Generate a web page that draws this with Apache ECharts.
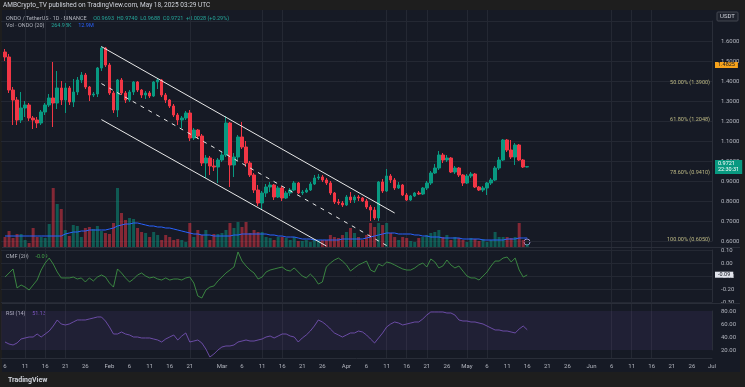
<!DOCTYPE html>
<html><head><meta charset="utf-8">
<script src="https://cdn.jsdelivr.net/npm/echarts@6/dist/echarts.min.js"></script>
<style>html,body{margin:0;padding:0;background:#1e1e1e;overflow:hidden}#c{width:745px;height:387px}</style>
</head><body><div id="c"></div>
<script>
// ---- categories: daily, Jan 5 2025 -> Jul 1 2025 ----
const categories = [];
for (let i = 0; i < 178; i++) { const d = new Date(Date.UTC(2025, 0, 5 + i)); categories.push(d.toISOString().slice(0, 10)); }
const firstDataDate = '2025-01-06';

// ---- OHLC (Jan 6 -> May 16) ----
const open = [1.545,1.52,1.355,1.305,1.205,1.265,1.28,1.215,1.205,1.19,1.245,1.28,1.315,1.29,1.365,1.305,1.365,1.295,1.345,1.405,1.43,1.37,1.33,1.335,1.465,1.565,
1.48,1.34,1.255,1.405,1.34,1.305,1.345,1.395,1.355,1.33,1.34,1.325,1.395,1.405,1.33,1.305,1.275,1.23,1.205,1.215,1.24,1.115,1.155,1.125,0.99,1.015,0.975,0.97,
1.005,1.03,1.19,0.98,1.02,1.12,1.07,0.99,0.93,0.855,0.79,0.84,0.87,0.88,0.82,0.865,0.815,0.84,0.855,0.89,0.84,0.845,0.855,0.885,0.915,0.92,0.905,0.89,0.84,0.795,0.79,
0.78,0.82,0.805,0.82,0.815,0.80,0.77,0.755,0.715,0.895,0.85,0.925,0.905,0.865,0.88,0.83,0.805,0.825,0.84,0.835,0.865,0.89,0.94,0.965,1.03,1.005,1.015,0.945,0.965,0.93,
0.89,0.925,0.935,0.87,0.855,0.865,0.89,0.905,0.965,1.005,1.105,1.055,1.02,1.08,1.005,0.97];
const close = [1.52,1.355,1.305,1.205,1.265,1.28,1.215,1.205,1.19,1.245,1.28,1.315,1.29,1.365,1.305,1.365,1.295,1.345,1.405,1.43,1.37,1.33,1.335,1.465,1.565,1.48,
1.34,1.255,1.405,1.34,1.305,1.345,1.395,1.355,1.33,1.34,1.325,1.395,1.405,1.33,1.305,1.275,1.23,1.205,1.215,1.24,1.115,1.155,1.125,0.99,1.015,0.975,0.97,1.005,
1.03,1.19,0.98,1.02,1.12,1.07,0.99,0.93,0.855,0.79,0.84,0.87,0.88,0.82,0.865,0.815,0.84,0.855,0.89,0.84,0.845,0.855,0.885,0.915,0.92,0.905,0.89,0.84,0.795,0.79,0.78,
0.82,0.805,0.82,0.815,0.80,0.77,0.755,0.715,0.895,0.85,0.925,0.905,0.865,0.88,0.83,0.805,0.825,0.84,0.835,0.865,0.89,0.94,0.965,1.03,1.005,1.015,0.945,0.965,0.93,0.89,
0.925,0.935,0.87,0.855,0.865,0.89,0.905,0.965,1.005,1.105,1.055,1.02,1.08,1.005,0.97,0.9721];
const high = [1.56,1.535,1.37,1.32,1.345,1.30,1.29,1.225,1.22,1.255,1.29,1.335,1.495,1.45,1.40,1.39,1.375,1.41,1.42,1.445,1.44,1.375,1.345,1.47,1.575,1.57,
1.49,1.35,1.41,1.415,1.35,1.355,1.40,1.40,1.36,1.35,1.35,1.40,1.415,1.41,1.34,1.31,1.285,1.24,1.225,1.25,1.255,1.165,1.16,1.135,1.03,1.025,1.01,1.015,
1.045,1.225,1.195,1.04,1.13,1.195,1.10,1.0,0.94,0.88,0.85,0.885,0.895,0.885,0.875,0.875,0.85,0.865,0.90,0.895,0.855,0.865,0.895,0.93,0.935,0.93,0.915,0.90,0.845,0.81,0.80,
0.83,0.845,0.83,0.83,0.82,0.81,0.78,0.77,0.90,0.91,0.96,0.935,0.915,0.895,0.885,0.84,0.83,0.845,0.85,0.87,0.90,0.95,0.985,1.05,1.04,1.03,1.02,0.975,0.97,0.935,
0.935,0.945,0.94,0.875,0.875,0.895,0.915,0.975,1.02,1.11,1.11,1.105,1.09,1.085,1.01,0.975];
const low = [1.50,1.34,1.18,1.18,1.19,1.22,1.20,1.16,1.165,1.18,1.23,1.27,1.17,1.26,1.28,1.24,1.28,1.27,1.33,1.39,1.36,1.30,1.32,1.32,1.45,1.47,
1.33,1.24,1.22,1.33,1.29,1.295,1.33,1.345,1.315,1.31,1.315,1.32,1.36,1.32,1.29,1.265,1.22,1.18,1.165,1.205,1.10,1.105,1.11,0.975,0.915,0.93,0.95,0.89,
0.995,1.02,0.87,0.92,1.005,1.06,0.97,0.92,0.84,0.775,0.755,0.82,0.845,0.805,0.815,0.80,0.81,0.825,0.85,0.835,0.83,0.84,0.85,0.88,0.905,0.895,0.88,0.83,0.785,0.78,0.77,
0.775,0.79,0.79,0.80,0.795,0.76,0.70,0.705,0.70,0.84,0.845,0.89,0.855,0.86,0.825,0.80,0.80,0.82,0.83,0.83,0.855,0.88,0.935,0.955,0.99,0.995,0.94,0.935,0.92,0.875,
0.885,0.915,0.865,0.85,0.845,0.83,0.88,0.90,0.955,1.0,1.045,1.01,0.98,1.0,0.965,0.968];
// volume (millions)
const volume = [10,16,9,13,13,7,4,19,10,10,9,23,59,43,38,17,11,22,21,10,19,20,18,21,16,14,
13,24,59,34,27,29,28,19,15,14,10,15,12,7,12,10,7,8,7,5,24,10,17,12,17,7,13,13,
14,17,24,19,25,20,25,14,17,15,15,10,9,7,10,10,9,7,10,6,6,7,5,8,7,7,7,12,10,9,12,
15,19,14,10,7,12,24,20,24,22,24,14,10,7,10,9,6,5,9,10,12,14,15,17,10,12,7,10,9,7,
5,9,8,6,8,5,7,15,10,10,10,9,10,24,7,3];
const volumeMA = [11,11,11,11,11,11,11,11,11,11,11,11,11,11,11,13,14,15,15,16,16,17,17,17,17,17,
18,19,21,22,23,23,24,24,23,22,21,21,20,20,19,19,18,17,16,15,14,13,13,12,12,12,11,11,
11,11,11,12,12,13,13,13,13,13,13,13,12,12,11,11,10,10,10,9,8,8,8,7,7,7,7,7,7,7,8,
8,8,8,8,8,9,10,11,12,13,14,14,14,13,13,13,13,12,12,11,11,10,10,10,9,9,9,9,9,8,
8,8,8,8,7,7,7,7,7,7,8,8,8,9,9,9];
const cmf = [-0.108,-0.077,-0.046,-0.192,-0.169,-0.185,-0.208,-0.169,-0.131,-0.054,0,0.038,-0.008,-0.069,-0.115,-0.115,-0.115,-0.108,-0.123,-0.115,-0.146,-0.115,-0.138,-0.108,-0.092,-0.108,
-0.154,-0.185,-0.046,-0.077,-0.115,-0.146,-0.123,-0.092,-0.077,-0.1,-0.115,-0.108,-0.123,-0.131,-0.115,-0.131,-0.123,-0.123,-0.131,-0.115,-0.108,-0.154,-0.254,-0.269,-0.208,-0.185,-0.177,-0.138,
-0.108,-0.077,-0.054,-0.031,0.085,0.015,-0.023,-0.054,-0.077,-0.123,-0.108,-0.069,-0.054,-0.046,-0.038,-0.031,-0.054,-0.062,-0.038,-0.069,-0.1,-0.115,-0.085,-0.115,-0.162,-0.146,-0.031,0,0.023,0.038,0.015,
-0.015,-0.062,-0.038,-0.015,0,0.015,-0.054,-0.069,-0.008,-0.023,0.008,0,-0.015,-0.031,-0.046,-0.054,-0.054,-0.038,-0.015,0,-0.031,0.031,0.008,-0.038,-0.023,0.023,-0.015,-0.038,-0.023,-0.062,
-0.1,-0.115,-0.115,-0.131,-0.1,-0.069,-0.023,0.015,0.015,0.038,0.046,0.008,0.038,-0.054,-0.108,-0.092];
const rsi = [32.3,29.2,27.7,30.8,36.9,38.5,40,40,44.6,40,44.6,49.2,56.9,66.2,60,58.5,60,63.1,66.2,66.2,66.2,67.7,69.2,70.8,70.8,64.6,
55.4,44.6,44.6,47.7,44.6,43.1,40,40,38.5,38.5,38.5,36.9,35.4,32.3,36.9,40,43.1,35.4,41.5,46.2,32.3,33.8,35.4,30.8,21.5,9.2,13.8,20,
24.6,26.2,26.2,27.7,32.3,33.8,35.4,33.8,33.8,35.4,36.9,40,41.5,38.5,41.5,44.6,44.6,41.5,40,32.3,38.5,43.1,49.2,56.9,66.2,63.1,58.5,52.3,46.2,43.1,40,
43.1,46.2,46.2,49.2,47.7,43.1,36.9,30.8,38.5,46.2,55.4,60,63.1,61.5,58.5,60,61.5,63.1,63.1,67.7,73.8,78.5,78.5,78.5,78.5,76.9,76.9,73.8,66.2,64.6,
64.6,63.1,63.1,61.5,60,56.9,53.8,50.8,50.8,49.2,49.2,47.7,46.2,52.3,56.9,51.13];

// ---- annotations ----
const channelUpper = [['2025-01-30', 1.572], ['2025-04-13', 0.740]];
const channelMid   = [['2025-01-30', 1.387], ['2025-04-12', 0.566]];
const channelLower = [['2025-01-30', 1.207], ['2025-03-27', 0.575]];
const fibPct   = ['50.00%', '61.80%', '78.60%', '100.00%'];
const fibPrice = [1.3900, 1.2048, 0.9410, 0.6050];
const alertPrice = 1.4825;
const countdown = '22:30:31';
const labelDates = ['2025-01-06','2025-01-11','2025-01-16','2025-01-21','2025-01-26','2025-02-01','2025-02-06','2025-02-11','2025-02-16','2025-02-21',
'2025-03-01','2025-03-06','2025-03-11','2025-03-16','2025-03-21','2025-03-26','2025-04-01','2025-04-06','2025-04-11','2025-04-16','2025-04-21','2025-04-26',
'2025-05-01','2025-05-06','2025-05-11','2025-05-16','2025-05-21','2025-05-26','2025-06-01','2025-06-06','2025-06-11','2025-06-16','2025-06-21','2025-06-26','2025-07-01'];
const gridDates = ['2025-01-11','2025-01-16','2025-01-21','2025-02-21','2025-03-11','2025-03-16','2025-04-11','2025-04-16','2025-04-21','2025-05-01','2025-05-06','2025-06-06','2025-06-11','2025-06-16'];
const monthNames = ['Jan','Feb','Mar','Apr','May','Jun','Jul','Aug'];

// ---- build padded series ----
const off = categories.indexOf(firstDataDate);
const pad = arr => categories.map((c, i) => (i - off >= 0 && i - off < arr.length) ? arr[i - off] : '-');
const candleData = categories.map((c, i) => {
  const k = i - off;
  if (k < 0 || k >= close.length) return '-';
  return [open[k], close[k], low[k], high[k]];
});
const UP = '#089981', DOWN = '#f23645';
const volData = categories.map((c, i) => {
  const k = i - off;
  if (k < 0 || k >= volume.length) return '-';
  return { value: volume[k], itemStyle: { color: close[k] >= open[k] ? 'rgba(8,153,129,0.5)' : 'rgba(242,54,69,0.5)' } };
});
const lastClose = close[close.length - 1];
const lastUp = close[close.length - 1] >= open[open.length - 1];
const lastCmf = cmf[cmf.length - 1];

const TXT = '#b2b5be', GRID = '#242833', FONT = 'Roboto';
const L = 1, R = 33;
const hiddenX = i => ({ type: 'category', gridIndex: i, data: categories, boundaryGap: false, show: false });
const CLEAR = 'rgba(0,0,0,0)';

const chart = echarts.init(document.getElementById('c'), null, { renderer: 'canvas' });
chart.setOption({
  backgroundColor: '#1e1e1e',
  animation: false,
  textStyle: { fontFamily: FONT },
  grid: [
    { left: L, right: R, top: 21, height: 220 },     // 0 price
    { left: L, right: R, top: 140, height: 107 },    // 1 volume overlay
    { left: L, right: R, top: 250, height: 52 },     // 2 CMF
    { left: L, right: R, top: 311, height: 39 },     // 3 RSI
    { left: L, right: R, top: 10, height: 348 }      // 4 background / time axis
  ],
  xAxis: [
    hiddenX(0), hiddenX(1), hiddenX(2), hiddenX(3),
    { type: 'category', gridIndex: 4, data: categories, boundaryGap: false,
      axisLine: { show: true, lineStyle: { color: '#2a2e39' } }, axisTick: { show: false },
      splitLine: { show: true, interval: (i, v) => gridDates.includes(categories[i]), lineStyle: { color: GRID, width: 1 } },
      axisLabel: { interval: (i, v) => labelDates.includes(v), color: TXT, fontSize: 6, margin: 5, hideOverlap: false,
        formatter: v => { const d = +v.slice(8, 10); return d === 1 ? monthNames[+v.slice(5, 7) - 1] : String(d); } } }
  ],
  yAxis: [
    { type: 'value', gridIndex: 0, position: 'right', min: 0.6, max: 1.7, interval: 0.1,
      axisLine: { show: true, lineStyle: { color: '#2a2e39' } }, axisTick: { show: false },
      splitLine: { lineStyle: { color: GRID } },
      axisLabel: { color: TXT, fontSize: 6, margin: 9, showMaxLabel: false, formatter: v => v.toFixed(4) } },
    { type: 'value', gridIndex: 1, min: 0, max: 107, show: false, splitLine: { show: false } },
    { type: 'value', gridIndex: 2, position: 'right', min: -0.3, max: 0.1, interval: 0.1,
      axisLine: { show: true, lineStyle: { color: '#2a2e39' } }, axisTick: { show: false },
      splitLine: { lineStyle: { color: GRID } },
      axisLabel: { color: TXT, fontSize: 6, margin: 9, formatter: v => v.toFixed(2) } },
    { type: 'value', gridIndex: 3, position: 'right', min: 20, max: 80, interval: 20,
      axisLine: { show: true, lineStyle: { color: '#2a2e39' } }, axisTick: { show: false },
      splitLine: { show: false },
      axisLabel: { color: TXT, fontSize: 6, margin: 9, formatter: v => v.toFixed(2) } },
    { type: 'value', gridIndex: 4, show: false, splitLine: { show: false } }
  ],
  series: [
    { type: 'bar', xAxisIndex: 1, yAxisIndex: 1, data: volData, barWidth: 3, z: 1 },
    { type: 'line', xAxisIndex: 1, yAxisIndex: 1, data: pad(volumeMA), symbol: 'none', lineStyle: { color: '#2962ff', width: 1 }, z: 2 },
    { type: 'candlestick', xAxisIndex: 0, yAxisIndex: 0, data: candleData, barWidth: 3, z: 3,
      itemStyle: { color: UP, color0: DOWN, borderColor: UP, borderColor0: DOWN, borderWidth: 1 },
      markLine: { symbol: 'none', silent: true, animation: false,
        lineStyle: { color: CLEAR, width: 0.5 },
        data: [
          { yAxis: lastClose, label: { position: 'end', distance: 3, formatter: () => lastClose.toFixed(4) + '\n' + countdown,
              color: '#fff', fontSize: 5.5, lineHeight: 6, backgroundColor: lastUp ? UP : DOWN, padding: [1, 3, 1, 3] } },
          { yAxis: alertPrice, label: { position: 'end', distance: 3, formatter: () => alertPrice.toFixed(4),
              color: '#131722', fontSize: 5.5, lineHeight: 6, backgroundColor: '#f7a21b', padding: [0, 3, 0, 3] } }
        ] } },
    { type: 'line', xAxisIndex: 0, yAxisIndex: 0, data: channelUpper, symbol: 'none', clip: false, lineStyle: { color: '#e8e8e8', width: 1 }, z: 4 },
    { type: 'line', xAxisIndex: 0, yAxisIndex: 0, data: channelMid, symbol: 'none', clip: false, lineStyle: { color: '#e8e8e8', width: 1, type: [4, 5] }, z: 4 },
    { type: 'line', xAxisIndex: 0, yAxisIndex: 0, data: channelLower, symbol: 'none', clip: false, lineStyle: { color: '#e8e8e8', width: 1 }, z: 4 },
    { type: 'scatter', xAxisIndex: 0, yAxisIndex: 0, symbolSize: 0, z: 5,
      data: fibPrice.map((p, i) => ({ value: [categories[categories.length - 1], p], name: fibPct[i] + ' (' + p.toFixed(4) + ')' })),
      label: { show: true, position: 'left', distance: 2, formatter: p => p.name, color: '#e3dd9a', fontSize: 5.5 } },
    { type: 'line', xAxisIndex: 2, yAxisIndex: 2, data: pad(cmf), symbol: 'none', clip: false, lineStyle: { color: '#43a047', width: 0.8 }, z: 3,
      markLine: { symbol: 'none', silent: true, lineStyle: { color: CLEAR }, data: [{ yAxis: lastCmf }],
        label: { position: 'end', distance: 3, formatter: () => lastCmf.toFixed(2), color: '#131722', fontSize: 5.5, backgroundColor: '#e0e3eb', padding: [0, 3, 0, 3] } } },
    { type: 'line', xAxisIndex: 3, yAxisIndex: 3, data: pad(rsi), symbol: 'none', clip: false, lineStyle: { color: '#7e57c2', width: 0.8 }, z: 3,
      markArea: { silent: true, itemStyle: { color: 'rgba(126,87,194,0.10)' }, data: [[{ yAxis: 80 }, { yAxis: 20 }]] } }
  ],
  graphic: [
    { type: 'rect', shape: { x: 2, y: 10, width: 738, height: 362 }, style: { fill: '#161a25' }, z: -10, silent: true },
    { type: 'line', shape: { x1: 2, y1: 247.5, x2: 740, y2: 247.5 }, style: { stroke: '#2a2e39', lineWidth: 1 }, z: 10 },
    { type: 'line', shape: { x1: 2, y1: 303.5, x2: 740, y2: 303.5 }, style: { stroke: '#2a2e39', lineWidth: 1 }, z: 10 },
    { type: 'text', left: 3, top: 2, style: { text: 'AMBCrypto_TV published on TradingView.com, May 18, 2025 03:29 UTC', fill: '#d1d4dc', fontSize: 6.5, fontFamily: FONT } },
    { type: 'text', left: 6, top: 13, style: { rich: {
        a: { fill: '#b2b5be', fontSize: 5.5, fontFamily: FONT }, b: { fill: '#26a69a', fontSize: 5.5, fontFamily: FONT } },
        text: '{a|ONDO / TetherUS · 1D · BINANCE}  {b|O0.9693  H0.9740  L0.9688  C0.9721  +0.0028 (+0.29%)}' } },
    { type: 'text', left: 6, top: 20, style: { rich: {
        a: { fill: '#b2b5be', fontSize: 5.5, fontFamily: FONT }, b: { fill: '#26a69a', fontSize: 5.5, fontFamily: FONT }, c: { fill: '#2962ff', fontSize: 5.5, fontFamily: FONT } },
        text: '{a|Vol · ONDO (20)}  {b|264.98K}  {c|12.9M}' } },
    { type: 'text', left: 6, top: 251, style: { rich: { a: { fill: '#b2b5be', fontSize: 5.5, fontFamily: FONT }, b: { fill: '#43a047', fontSize: 5.5, fontFamily: FONT } }, text: '{a|CMF (20)}  {b|' + lastCmf.toFixed(2) + '}' } },
    { type: 'text', left: 6, top: 308, style: { rich: { a: { fill: '#b2b5be', fontSize: 5.5, fontFamily: FONT }, b: { fill: '#7e57c2', fontSize: 5.5, fontFamily: FONT } }, text: '{a|RSI (14)}  {b|' + rsi[rsi.length - 1].toFixed(2) + '}' } },
    { type: 'rect', shape: { x: 717, y: 12, width: 21, height: 9, r: 1 }, style: { fill: '#1e222d', stroke: '#434651' } },
    { type: 'text', left: 720, top: 13.5, style: { text: 'USDT', fill: '#d1d4dc', fontSize: 6, fontFamily: FONT } },
    { type: 'circle', shape: { cx: 527, cy: 242, r: 3 }, style: { fill: 'none', stroke: '#9c8fd0', lineWidth: 1 } },
    { type: 'text', left: 8, top: 377, style: { text: 'TradingView', fill: '#d1d4dc', fontSize: 7, fontWeight: 'bold', fontFamily: FONT } }
  ]
});
</script></body></html>
